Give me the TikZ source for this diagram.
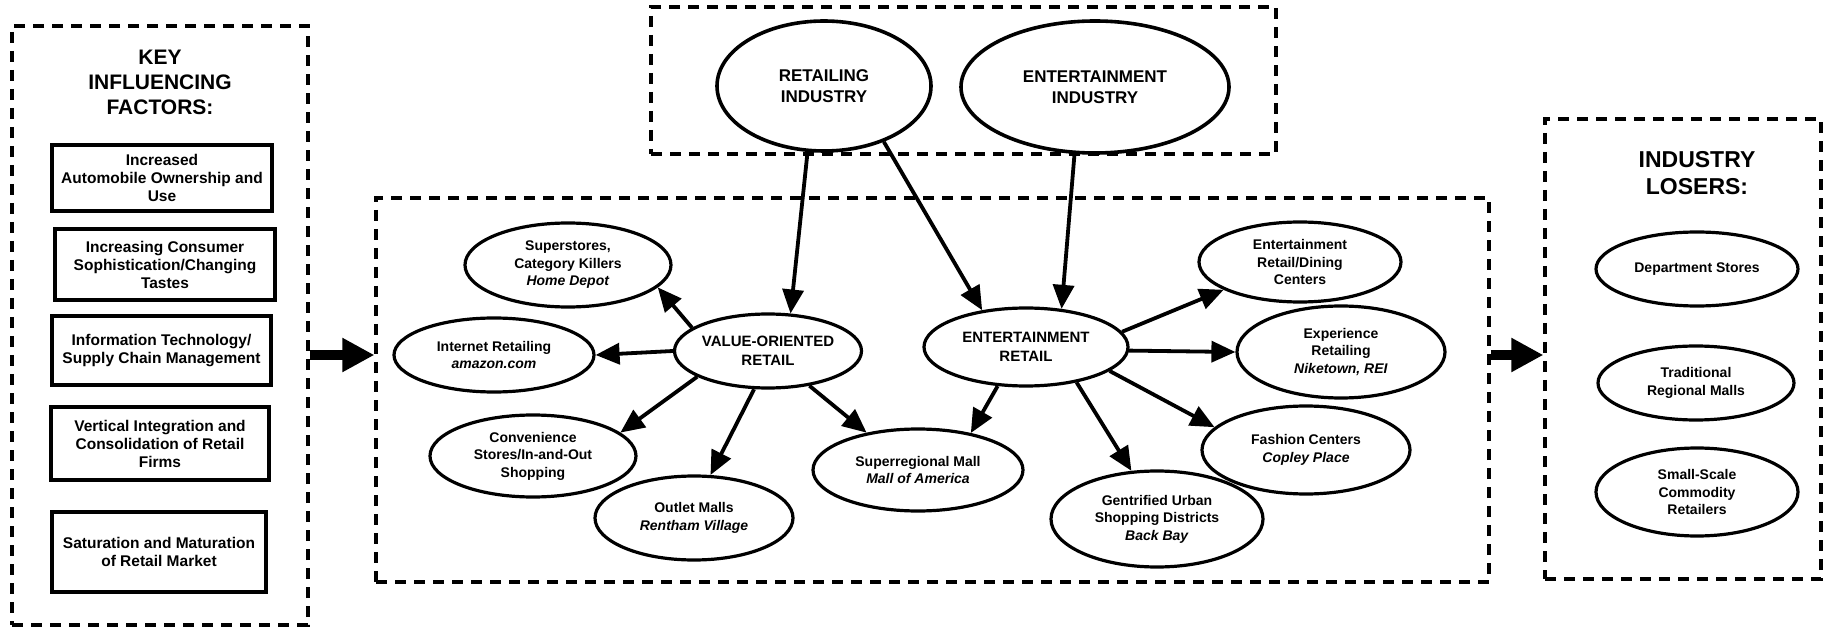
\documentclass[tikz,border=0pt]{standalone}
\usepackage{fontspec}
\setmainfont{Liberation Sans}
\usetikzlibrary{arrows.meta,shapes.geometric}

\begin{document}
\begin{tikzpicture}[x=1pt,y=-1pt,
  dbox/.style={draw, line width=3.2pt, dash pattern=on 11pt off 8pt, inner sep=0pt},
  fbox/.style={draw, line width=3.5pt, inner sep=0pt, align=center,
    font=\fontsize{15.5}{18}\selectfont\bfseries},
  ell/.style={draw, ellipse, line width=3.2pt, inner sep=0pt, align=center,
    font=\fontsize{14}{17.5}\selectfont\bfseries},
  hub/.style={ell, font=\fontsize{15}{18.5}\selectfont\bfseries},
  ind/.style={ell, line width=3.6pt, font=\fontsize{17}{21}\selectfont\bfseries},
  title/.style={align=center, font=\fontsize{21}{25}\selectfont\bfseries},
  arr/.style={line width=3.8pt, -{Triangle[length=24pt,width=21pt]}},
  bigarr/.style={line width=10pt, -{Triangle[length=32pt,width=32pt]}},
]
\useasboundingbox (0,0) rectangle (1824,628);

% dashed frames
\node[dbox, minimum width=296pt, minimum height=599pt] (keybox) at (160,325.5) {};
\node[dbox, minimum width=625pt, minimum height=147pt] (topbox) at (963.5,80.5) {};
\node[dbox, minimum width=1113pt, minimum height=384pt] (centre) at (932.5,390) {};
\node[dbox, minimum width=276pt, minimum height=460pt] (losers) at (1683,349) {};

% key influencing factors
\node[title] (keyttl) at (160,82) {KEY\\INFLUENCING\\FACTORS:};
\node[fbox, minimum width=220pt, minimum height=66pt] (f1) at (162,178)
  {Increased\\Automobile Ownership and\\Use};
\node[fbox, minimum width=220pt, minimum height=71pt] (f2) at (165,264.5)
  {Increasing Consumer\\Sophistication/Changing\\Tastes};
\node[fbox, minimum width=219pt, minimum height=69pt] (f3) at (161.5,350.5)
  {Information Technology/\\Supply Chain Management};
\node[fbox, minimum width=218pt, minimum height=73pt] (f4) at (160,443.5)
  {Vertical Integration and\\Consolidation of Retail\\Firms};
\node[fbox, minimum width=214pt, minimum height=80pt] (f5) at (159,552)
  {Saturation and Maturation\\of Retail Market};

% industries
\node[ind, minimum width=214pt, minimum height=130pt] (retind) at (824,86) {RETAILING\\INDUSTRY};
\node[ind, minimum width=268pt, minimum height=132pt] (entind) at (1095,87) {ENTERTAINMENT\\INDUSTRY};

% hubs
\node[hub, minimum width=176pt, minimum height=74pt] (value) at (768,351) {VALUE-ORIENTED\\RETAIL};
\node[hub, minimum width=204pt, minimum height=78pt] (entret) at (1026,347) {ENTERTAINMENT\\RETAIL};

% value-oriented formats
\node[ell, minimum width=206pt, minimum height=84pt] (superst) at (568,265)
  {Superstores,\\Category Killers\\\textit{Home Depot}};
\node[ell, minimum width=200pt, minimum height=74pt] (internet) at (494,355)
  {Internet Retailing\\\textit{amazon.com}};
\node[ell, minimum width=206pt, minimum height=82pt] (conv) at (533,456)
  {Convenience\\Stores/In-and-Out\\Shopping};
\node[ell, minimum width=198pt, minimum height=84pt] (outlet) at (694,518)
  {Outlet Malls\\\textit{Rentham Village}};
\node[ell, minimum width=210pt, minimum height=82pt] (superreg) at (918,470)
  {Superregional Mall\\\textit{Mall of America}};

% entertainment formats
\node[ell, minimum width=212pt, minimum height=96pt] (gentr) at (1157,519)
  {Gentrified Urban\\Shopping Districts\\\textit{Back Bay}};
\node[ell, minimum width=208pt, minimum height=88pt] (fashion) at (1306,450)
  {Fashion Centers\\\textit{Copley Place}};
\node[ell, minimum width=208pt, minimum height=92pt] (exper) at (1341,352)
  {Experience\\Retailing\\\textit{Niketown, REI}};
\node[ell, minimum width=202pt, minimum height=80pt] (entdin) at (1300,262)
  {Entertainment\\Retail/Dining\\Centers};

% industry losers
\node[title, font=\fontsize{23}{27}\selectfont\bfseries] (losttl) at (1697,173) {INDUSTRY\\LOSERS:};
\node[ell, minimum width=202pt, minimum height=74pt] (dept) at (1697,269) {Department Stores};
\node[ell, minimum width=196pt, minimum height=74pt] (trad) at (1696,383) {Traditional\\Regional Malls};
\node[ell, minimum width=202pt, minimum height=88pt] (small) at (1697,492) {Small-Scale\\Commodity\\Retailers};

% connectors
\draw[arr] (retind.256) -- (value.59);
\draw[arr] (retind.317) -- (entret.140);
\draw[arr] (entind.253) -- (entret.47);

\draw[arr] (value.163) -- (superst.346);
\draw[arr] (value.180) -- (internet.0);
\draw[arr] (value.200) -- (conv.15);
\draw[arr] (value.250) -- (outlet.69);
\draw[arr] (value.320) -- (superreg.144);

\draw[arr] (entret.234) -- (superreg.35);
\draw[arr] (entret.325) -- (gentr.118);
\draw[arr] (entret.344) -- (fashion.166);
\draw[arr] (entret.358) -- (exper.180);
\draw[arr] (entret.9) -- (entdin.200);

\draw[bigarr] (keybox.east |- internet) -- (centre.west |- internet);
\draw[bigarr] (centre.east |- internet) -- (losers.west |- internet);
\end{tikzpicture}
\end{document}
